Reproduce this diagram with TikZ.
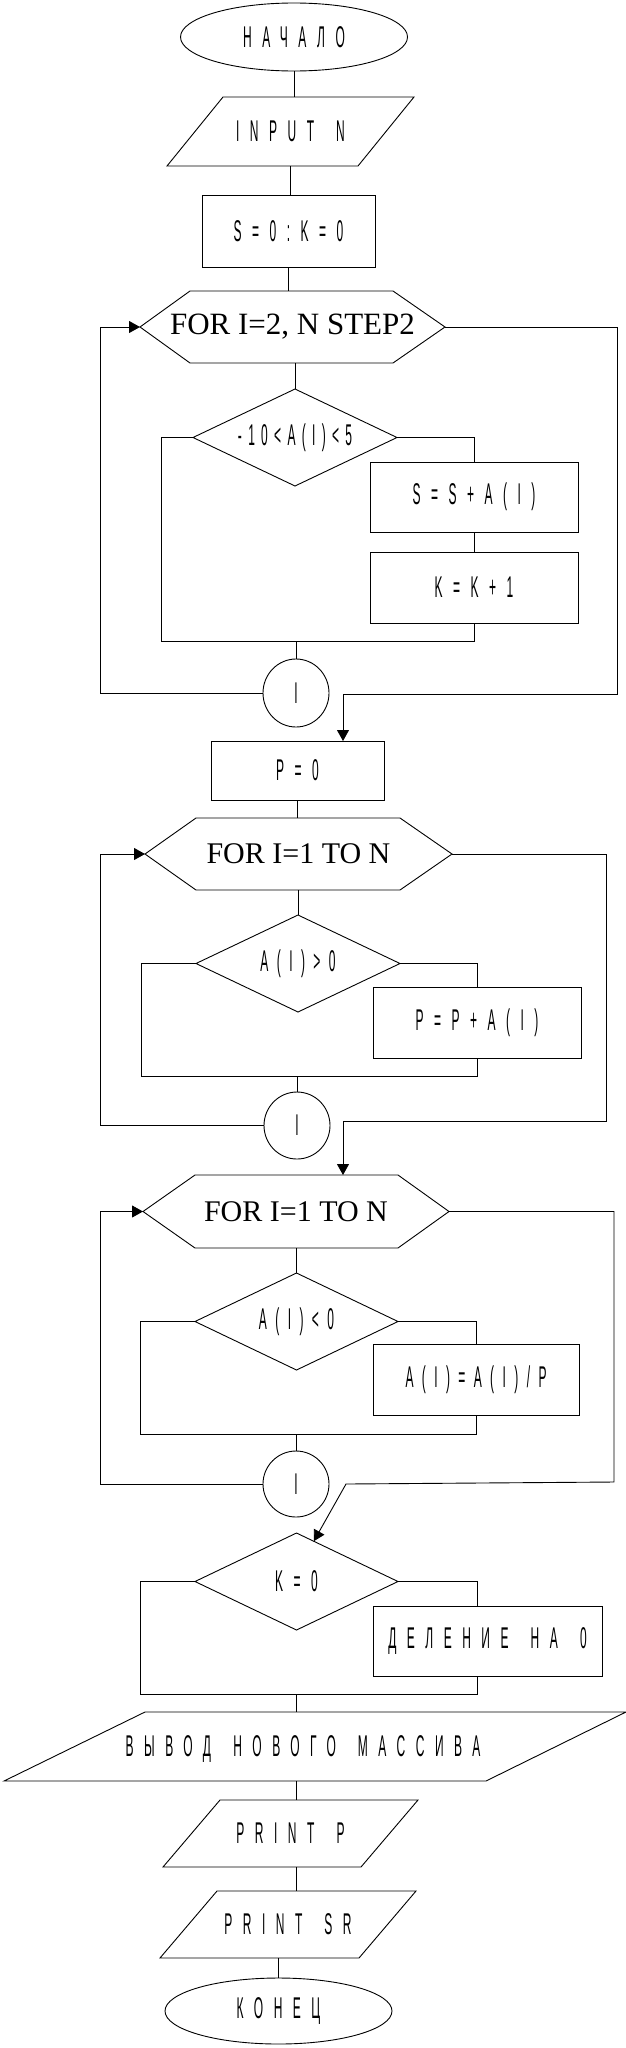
\documentclass[tikz,border=0pt]{standalone}
\usepackage{fontspec}
\newfontfamily\nar[FakeStretch=0.4,LetterSpace=35,WordSpace=1.6]{Liberation Sans}
\newfontfamily\narb[FakeStretch=0.4,LetterSpace=28,WordSpace=1.6]{Liberation Sans}
\newfontfamily\narc[FakeStretch=0.4,LetterSpace=21,WordSpace=1.6]{Liberation Sans}
\newfontfamily\tms{Liberation Serif}
\usetikzlibrary{shapes.geometric,arrows.meta,calc}
\begin{document}
\begin{tikzpicture}[x=1pt,y=-1pt,line width=0.9pt,
  every node/.style={inner sep=0pt,outer sep=0pt},
  txt/.style={font=\nar\fontsize{30}{36}\selectfont},
  txtb/.style={font=\narb\fontsize{30}{36}\selectfont},
  txtc/.style={font=\narc\fontsize{30}{36}\selectfont},
  ser/.style={font=\tms\fontsize{31}{36}\selectfont},
  sers/.style={font=\tms\fontsize{30}{36}\selectfont},
  term/.style={ellipse,draw,txt},
  proc/.style={rectangle,draw,txt},
  cond/.style={diamond,draw,txt},
  conn/.style={ellipse,draw,txt},
  arr/.style={-{Triangle[length=11pt,width=12pt]}}]
\useasboundingbox (0,0) rectangle (626,2048);

% nodes
\node[term,minimum width=227pt,minimum height=68pt] (start) at (294,37) {НАЧАЛО};
\node[txt,minimum width=247pt,minimum height=69pt] (in1) at (290.5,131.5) {INPUT N};
\draw ([xshift=56pt]in1.north west) -- (in1.north east) -- ([xshift=-56pt]in1.south east) -- (in1.south west) -- cycle;
\node[proc,minimum width=173pt,minimum height=72pt] (init) at (288.5,231) {S=0:K=0};
\node[ser,minimum width=305pt,minimum height=72pt] (h1) at (292.5,327) {FOR I=2, N STEP2};
\draw ([xshift=50pt]h1.north west) -- ([xshift=-52pt]h1.north east) -- (h1.east) -- ([xshift=-52pt]h1.south east) -- ([xshift=50pt]h1.south west) -- (h1.west) -- cycle;
\node[cond,txtc,minimum width=204pt,minimum height=97pt] (d1) at (295,437.5) {\makebox[0pt]{-10<A(I)<5}};
\node[proc,minimum width=208pt,minimum height=70pt] (b1) at (474,497) {S=S+A(I)};
\node[proc,minimum width=208pt,minimum height=71pt] (b2) at (474,587.5) {K=K+1};
\coordinate (m1L) at (161,641);
\node[conn,minimum width=66pt,minimum height=68pt] (c1) at (296,693) {I};
\coordinate (r1) at (617,694);
\node[proc,minimum width=173pt,minimum height=59pt] (p0) at (297.5,770.5) {P=0};
\node[sers,minimum width=307pt,minimum height=72pt] (h2) at (298.5,854) {FOR I=1 TO N};
\draw ([xshift=51pt]h2.north west) -- ([xshift=-52pt]h2.north east) -- (h2.east) -- ([xshift=-52pt]h2.south east) -- ([xshift=51pt]h2.south west) -- (h2.west) -- cycle;
\node[cond,txtb,minimum width=204pt,minimum height=97pt] (d2) at (298,963.5) {\makebox[0pt]{A(I)>0}};
\node[proc,minimum width=208pt,minimum height=71pt] (b3) at (477,1022.5) {P=P+A(I)};
\coordinate (m2L) at (141,1076);
\node[conn,minimum width=66pt,minimum height=67pt] (c2) at (297,1125.5) {I};
\coordinate (r2) at (606,1121);
\node[sers,minimum width=306pt,minimum height=73pt] (h3) at (296,1211.5) {FOR I=1 TO N};
\draw ([xshift=52pt]h3.north west) -- ([xshift=-51pt]h3.north east) -- (h3.east) -- ([xshift=-51pt]h3.south east) -- ([xshift=52pt]h3.south west) -- (h3.west) -- cycle;
\node[cond,txtb,minimum width=203pt,minimum height=97pt] (d3) at (296.5,1321.5) {\makebox[0pt]{A(I)<0}};
\node[proc,txtb,minimum width=206pt,minimum height=71pt] (b4) at (476,1379.5) {A(I)=A(I)/P};
\coordinate (m3L) at (140,1434);
\node[conn,minimum width=66pt,minimum height=66pt] (c3) at (296,1484) {I};
\coordinate (r3) at (614,1482);
\coordinate (k3) at (346,1484);
\node[cond,minimum width=203pt,minimum height=97pt] (d4) at (296.5,1581.5) {\makebox[0pt]{K=0}};
\node[proc,minimum width=229pt,minimum height=70pt] (b5) at (487.5,1641) {ДЕЛЕНИЕ НА 0};
\coordinate (m4L) at (140,1694);
\node[minimum width=622pt,minimum height=69pt] (out) at (315,1746.5) {};
\draw ([xshift=141pt]out.north west) -- (out.north east) -- ([xshift=-140pt]out.south east) -- (out.south west) -- cycle;
\node[txt] (outT) at (303,1749) {ВЫВОД НОВОГО МАССИВА};
\node[txt,minimum width=255pt,minimum height=67pt] (pp) at (290.5,1833.5) {PRINT P};
\draw ([xshift=57pt]pp.north west) -- (pp.north east) -- ([xshift=-57pt]pp.south east) -- (pp.south west) -- cycle;
\node[txt,minimum width=256pt,minimum height=67pt] (ps) at (288,1924.5) {PRINT SR};
\draw ([xshift=57pt]ps.north west) -- (ps.north east) -- ([xshift=-57pt]ps.south east) -- (ps.south west) -- cycle;
\node[term,minimum width=227pt,minimum height=66pt] (end) at (278.5,2011) {КОНЕЦ};

% connectors
\draw (start.south) -- (start.south |- in1.north);
\draw (in1.south) -- (in1.south |- init.north);
\draw (init.south) -- (init.south |- h1.north);
\draw (d1.north |- h1.south) -- (d1.north);
\draw (d1.east) -| (b1.north);
\draw (b1.south) -- (b2.north);
\draw (b2.south) |- (m1L) |- (d1.west);
\draw (c1.north) -- (c1.north |- m1L);
\draw[arr] (c1.west) -| ([xshift=-40pt]h1.west) -- (h1.west);
\draw[arr] (h1.east) -| (r1) -| ([xshift=45.5pt]p0.north);
\draw (p0.south) -- (p0.south |- h2.north);
\draw (d2.north |- h2.south) -- (d2.north);
\draw (d2.east) -| (b3.north);
\draw (b3.south) |- (m2L) |- (d2.west);
\draw (c2.north) -- (c2.north |- m2L);
\draw[arr] (c2.west) -| ([xshift=-45pt]h2.west) -- (h2.west);
\draw[arr] (h2.east) -| (r2) -| ([xshift=47pt]h3.north);
\draw (d3.north |- h3.south) -- (d3.north);
\draw (d3.east) -| (b4.north);
\draw (b4.south) |- (m3L) |- (d3.west);
\draw (c3.north) -- (c3.north |- m3L);
\draw[arr] (c3.west) -| ([xshift=-43pt]h3.west) -- (h3.west);
\draw[arr] (h3.east) -| (r3) -- (k3) -- ($(d4.north)!0.17!(d4.east)$);
\draw (d4.east) -| ([xshift=-10.5pt]b5.north);
\draw ([xshift=-10.5pt]b5.south) |- (m4L) |- (d4.west);
\draw (d4.south |- m4L) -- (d4.south |- out.north);
\draw (c3.south |- out.south) -- (c3.south |- pp.north);
\draw (c3.south |- pp.south) -- (c3.south |- ps.north);
\draw (end.north |- ps.south) -- (end.north);
\end{tikzpicture}
\end{document}
